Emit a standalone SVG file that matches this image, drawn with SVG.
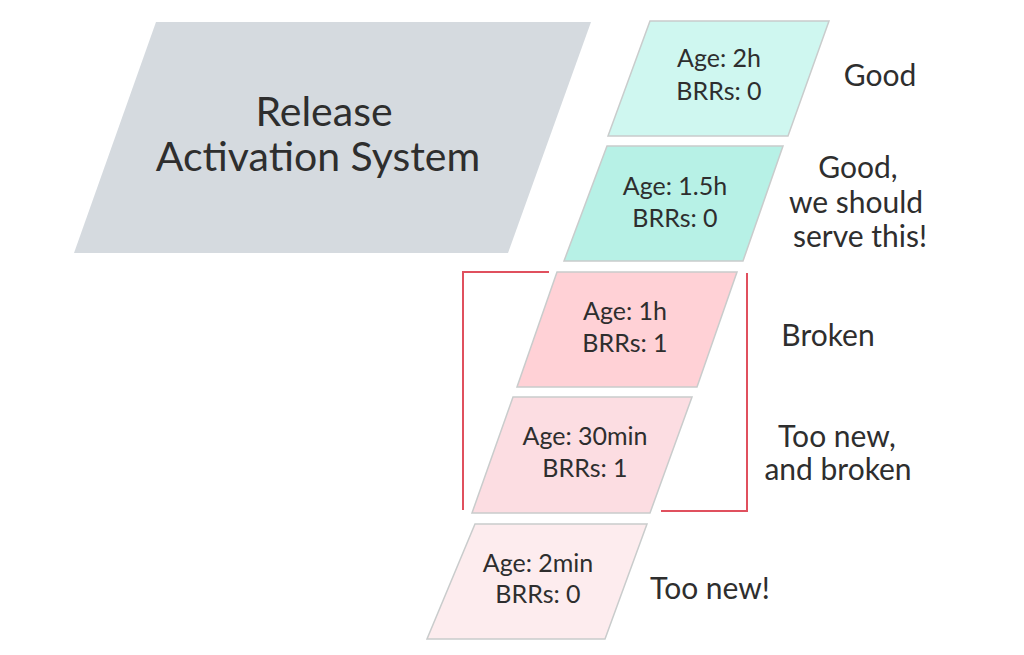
<svg xmlns="http://www.w3.org/2000/svg" width="1024" height="655" viewBox="0 0 1024 655">
<style>
text{font-family:Lato,"Liberation Sans",sans-serif;fill:#2e2e2e;text-anchor:middle}
.box{stroke:#c9cccc;stroke-width:1.5}
.in{font-size:25px}
.lbl{font-size:30px}
.br{fill:none;stroke:#e0505e;stroke-width:2}
</style>
<rect width="1024" height="655" fill="#ffffff"/>
<g id="ras">
<polygon points="156,22 591,22 508,253 74,253" fill="#d5dadf"/>
<text x="324" y="126" font-size="41">Release</text>
<text x="318" y="171" font-size="41">Activation System</text>
</g>
<g id="b2h">
<polygon class="box" points="650,21 829,21 788,136 608,136" fill="#cff7f0"/>
<text class="in" x="719" y="67">Age: 2h</text>
<text class="in" x="719" y="100">BRRs: 0</text>
</g>
<g id="b15h">
<polygon class="box" points="607,146 783,146 743,261 564,261" fill="#b7f1e6"/>
<text class="in" x="675" y="195">Age: 1.5h</text>
<text class="in" x="675" y="227">BRRs: 0</text>
</g>
<g id="b1h">
<polygon class="box" points="557,272 737,272 697,387 517,387" fill="#ffd1d6"/>
<text class="in" x="625" y="320">Age: 1h</text>
<text class="in" x="625" y="352">BRRs: 1</text>
</g>
<g id="b30">
<polygon class="box" points="513,397 692,397 650,513 472,513" fill="#fcdde2"/>
<text class="in" x="585" y="445">Age: 30min</text>
<text class="in" x="585" y="477">BRRs: 1</text>
</g>
<g id="b2m">
<polygon class="box" points="475,524 647,524 605,639 427,639" fill="#fdecee"/>
<text class="in" x="538" y="572">Age: 2min</text>
<text class="in" x="538" y="603">BRRs: 0</text>
</g>
<g id="labels">
<text class="lbl" x="858" y="178">Good,</text>
<text class="lbl" x="880" y="86">Good</text>
<text class="lbl" x="856" y="213">we should</text>
<text class="lbl" x="860" y="247">serve this!</text>
<text class="lbl" x="828" y="346">Broken</text>
<text class="lbl" x="837" y="447">Too new,</text>
<text class="lbl" x="838" y="480">and broken</text>
<text class="lbl" x="710" y="599">Too new!</text>
</g>
<g id="connectors">
<polyline class="br" points="549,272 463,272 463,510"/>
<polyline class="br" points="747,273 747,511 661,511"/>
</g>
</svg>
